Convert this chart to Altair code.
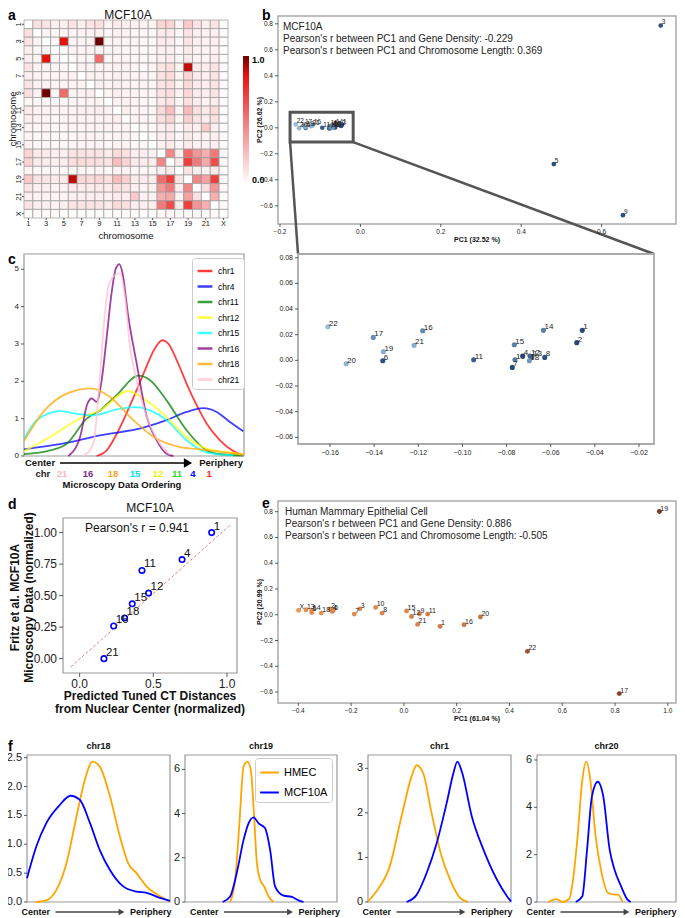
import altair as alt
import pandas as pd

FONT = "Liberation Sans"
MINUS = "\u2212"
W, H = 669, 910

# ---------------- panel a : contact heatmap ----------------
CHROMS = [str(i) for i in range(1, 23)] + ["X"]
HEAT_TICKS = ["1", "3", "5", "7", "9", "11", "13", "15", "17", "19", "21", "X"]
HEAT_UPPER = [
    [.12, .10, .06, .06, .10, .06, .10, .12, .04, .08, .06, .05, .04, .05, .16, .16, .04, .20, .10, .06, .10, .02],
    [.04, .03, .04, .04, .05, .05, .05, .03, .05, .05, .03, .03, .03, .08, .08, .03, .10, .06, .05, .06, .02],
    [.03, .85, .04, .04, .05, 1.0, .03, .05, .04, .04, .03, .03, .08, .08, .03, .10, .06, .05, .06, .02],
    [.03, .04, .04, .04, .04, .03, .04, .03, .03, .03, .03, .06, .06, .03, .08, .05, .04, .05, .02],
    [.03, .04, .04, .55, .03, .04, .04, .03, .03, .03, .06, .07, .03, .08, .05, .04, .06, .02],
    [.05, .05, .05, .04, .05, .05, .04, .03, .04, .10, .12, .04, .90, .08, .06, .10, .02],
    [.05, .05, .04, .06, .05, .04, .04, .04, .10, .14, .04, .15, .08, .06, .10, .02],
    [.06, .04, .06, .05, .04, .04, .04, .10, .12, .04, .14, .08, .06, .10, .02],
    [.04, .06, .05, .04, .04, .04, .10, .12, .04, .15, .08, .06, .10, .02],
    [.05, .05, .04, .03, .03, .08, .10, .03, .12, .07, .05, .08, .02],
    [.06, .04, .04, .04, .14, .25, .04, .26, .12, .08, .14, .02],
    [.04, .04, .04, .12, .16, .04, .18, .10, .06, .12, .02],
    [.03, .03, .06, .08, .03, .08, .06, .20, .06, .02],
    [.03, .06, .07, .03, .08, .05, .05, .06, .02],
    [.05, .07, .03, .08, .05, .05, .06, .02],
    [.45, .06, .55, .40, .30, .50, .03],
    [.08, .70, .50, .32, .65, .03],
    [.10, .06, .05, .08, .02],
    [.45, .35, .70, .03],
    [.12, .40, .03],
    [.30, .02],
    [.02],
]

# ---------------- panel b / inset : MCF10A PCA ----------------
PCA_CHR = [str(i) for i in range(1, 23)]
PCA_X = [-0.0457, -0.0482, 0.747, -0.0727, 0.481, -0.1361, -0.0774, -0.0627, 0.653, -0.0762, -0.0949,
         -0.0694, -0.0685, -0.0633, -0.0765, -0.118, -0.1404, -0.0697, -0.1358, -0.1527, -0.1219, -0.161]
PCA_Y = [0.0234, 0.0138, 0.787, 0.0034, -0.279, -0.0003, -0.0055, 0.0023, -0.672, 0.0005, 0.0005,
         0.0034, 0.0029, 0.0234, 0.0122, 0.0231, 0.0179, -0.0003, 0.0068, -0.0026, 0.0117, 0.0262]
PCA_SHADE = [.9, .9, .85, .85, .85, .85, .9, .85, .85, .55, .75, .7, .7, .5, .5, .45, .4, .35, .2, .15, .2, .1]
MCF_TEXT = ["MCF10A", "Pearson's r between PC1 and Gene Density: -0.229",
            "Pearson's r between PC1 and Chromosome Length: 0.369"]
ZOOM_X = [-0.175, -0.018]
ZOOM_Y = [-0.11, 0.12]
B_XTICKS = [-0.2, 0.0, 0.2, 0.4, 0.6]
B_YTICKS = [-0.6, -0.4, -0.2, 0.0, 0.2, 0.4, 0.6, 0.8]
I_XTICKS = [-0.16, -0.14, -0.12, -0.10, -0.08, -0.06, -0.04, -0.02]
I_YTICKS = [-0.06, -0.04, -0.02, 0.0, 0.02, 0.04, 0.06, 0.08]

# ---------------- panel c : density curves ----------------
C_CHROMS = ["chr1", "chr4", "chr11", "chr12", "chr15", "chr16", "chr18", "chr21"]
C_COLORS = ["#ff0000", "#0000ff", "#008000", "#ffff00", "#00ffff", "#800080", "#ffa500", "#ffc0cb"]
C_T = {
    "chr1": [0.33, 0.376, 0.414, 0.459, 0.505, 0.55, 0.591, 0.629, 0.656, 0.694, 0.739, 0.785, 0.83, 0.891, 0.952, 0.997],
    "chr4": [0.0, 0.118, 0.2, 0.345, 0.542, 0.648, 0.739, 0.815, 0.876, 0.936, 0.997],
    "chr11": [0.0, 0.118, 0.194, 0.285, 0.345, 0.421, 0.52, 0.573, 0.648, 0.739, 0.83, 0.876, 0.997],
    "chr12": [0.0, 0.118, 0.27, 0.345, 0.474, 0.542, 0.648, 0.739, 0.83, 0.952, 0.997],
    "chr15": [0.0, 0.058, 0.164, 0.239, 0.315, 0.421, 0.505, 0.573, 0.648, 0.739, 0.83, 0.952],
    "chr16": [0.202, 0.255, 0.288, 0.308, 0.33, 0.353, 0.376, 0.398, 0.418, 0.433, 0.448, 0.474, 0.512, 0.558, 0.603, 0.648, 0.679],
    "chr18": [0.0, 0.088, 0.194, 0.308, 0.391, 0.497, 0.603, 0.709, 0.8, 0.921, 0.997],
    "chr21": [0.27, 0.315, 0.338, 0.361, 0.383, 0.414, 0.436, 0.459, 0.482, 0.512, 0.558, 0.618, 0.664],
}
C_D = {
    "chr1": [0.0, 0.15, 0.51, 1.05, 1.67, 2.3, 2.84, 3.1, 3.01, 2.57, 1.94, 1.36, 0.87, 0.42, 0.13, 0.02],
    "chr4": [0.18, 0.28, 0.36, 0.55, 0.76, 0.96, 1.18, 1.28, 1.18, 0.91, 0.66],
    "chr11": [0.05, 0.15, 0.33, 1.0, 1.22, 1.63, 2.15, 2.03, 1.49, 0.69, 0.15, 0.06, 0.01],
    "chr12": [0.13, 0.51, 1.05, 1.22, 1.74, 1.54, 1.05, 0.51, 0.2, 0.08, 0.04],
    "chr15": [0.45, 0.96, 1.2, 1.13, 1.09, 1.25, 1.31, 1.22, 0.96, 0.42, 0.1, 0.02],
    "chr16": [0.0, 0.51, 1.4, 1.54, 1.45, 2.03, 3.19, 4.36, 5.03, 5.14, 4.89, 3.73, 2.48, 1.05, 0.42, 0.06, 0.0],
    "chr18": [0.4, 1.18, 1.67, 1.81, 1.58, 0.96, 0.46, 0.24, 0.18, 0.09, 0.04],
    "chr21": [0.0, 0.33, 1.58, 3.37, 4.53, 4.85, 4.89, 4.27, 2.92, 2.03, 1.05, 0.33, 0.04],
}
C_YTICKS = [0, 1, 2, 3, 4, 5]
ORDER_LABELS = ["chr", "21", "16", "18", "15", "12", "11", "4", "1"]
ORDER_POS = [0.086, 0.173, 0.291, 0.405, 0.505, 0.609, 0.695, 0.768, 0.841]
ORDER_COLORS = ["#222222", "#ffb6c1", "#7d2a8c", "#ffa31a", "#00e1f0", "#f0f000", "#22dd22", "#0000ff", "#ff2222"]
ORDER_TITLE = "Microscopy Data Ordering"
CP_WORDS = ["Center", "Periphery"]

# ---------------- panel d : correlation ----------------
D_LABELS = ["1", "4", "11", "12", "15", "18", "16", "21"]
D_X = [0.896, 0.695, 0.423, 0.468, 0.357, 0.305, 0.231, 0.165]
D_Y = [1.0, 0.786, 0.70, 0.52, 0.435, 0.323, 0.259, 0.0]
D_FIT_X = [-0.06, 1.02]
D_FIT_Y = [-0.066, 1.058]
D_XTICKS = [0.0, 0.5, 1.0]
D_YTICKS = [0.0, 0.25, 0.5, 0.75, 1.0]
D_R_TEXT = "Pearson's r = 0.941"
D_XTITLE = ["Predicted Tuned CT Distances", "from Nuclear Center (normalized)"]
D_YTITLE = ["Fritz et al. MCF10A", "Microscopy Data (normalized)"]

# ---------------- panel e : HMEC PCA ----------------
E_CHR = ["X", "13", "14", "5", "18", "2", "4", "6", "7", "3", "10", "8", "15", "12", "9", "11", "21", "1",
         "16", "20", "22", "17", "19"]
E_X = [-0.399, -0.371, -0.349, -0.349, -0.313, -0.28, -0.272, -0.268, -0.188, -0.167, -0.107, -0.082,
       0.010, 0.029, 0.059, 0.09, 0.052, 0.137, 0.228, 0.29, 0.468, 0.816, 0.968]
E_Y = [0.034, 0.039, 0.033, 0.018, 0.013, 0.046, 0.026, 0.033, 0.005, 0.046, 0.057, 0.013, 0.029, -0.013,
       0.008, 0.005, -0.075, -0.09, -0.078, -0.018, -0.284, -0.612, 0.801]
E_SHADE = [.1, .15, .15, .2, .15, .2, .2, .25, .2, .2, .2, .25, .2, .3, .25, .3, .25, .35, .35, .4, .75, .9, 1.0]
HMEC_TEXT = ["Human Mammary Epithelial Cell", "Pearson's r between PC1 and Gene Density: 0.886",
             "Pearson's r between PC1 and Chromosome Length: -0.505"]
E_XTICKS = [-0.4, -0.2, 0.0, 0.2, 0.4, 0.6, 0.8, 1.0]
E_YTICKS = [-0.6, -0.4, -0.2, 0.0, 0.2, 0.4, 0.6, 0.8]

# ---------------- panel f : HMEC vs MCF10A densities ----------------
F_SERIES = ["HMEC", "MCF10A"]
F_COLORS = ["#ffa500", "#0000ff"]
F_NAMES = ["chr18", "chr19", "chr1", "chr20"]
F_HT = [
    [0.06, 0.136, 0.206, 0.276, 0.346, 0.404, 0.458, 0.51, 0.58, 0.65, 0.708, 0.766, 0.836, 0.93, 1.0],
    [0.297, 0.33, 0.358, 0.385, 0.411, 0.433, 0.451, 0.473, 0.495, 0.521, 0.55, 0.582],
    [0.0, 0.059, 0.152, 0.234, 0.304, 0.34, 0.386, 0.445, 0.515, 0.574, 0.644, 0.7],
    [0.081, 0.14, 0.186, 0.233, 0.256, 0.29, 0.326, 0.353, 0.384, 0.419, 0.465, 0.512, 0.558, 0.581, 0.616],
]
F_HY = [
    [0.0, 0.03, 0.21, 0.67, 1.48, 2.11, 2.43, 2.34, 1.83, 1.13, 0.67, 0.5, 0.27, 0.1, 0.01],
    [0.0, 1.0, 3.56, 6.12, 6.35, 5.97, 4.32, 1.76, 1.0, 0.7, 0.25, 0.0],
    [0.01, 0.24, 0.8, 1.92, 2.81, 3.07, 2.89, 1.99, 1.02, 0.5, 0.09, 0.0],
    [0.0, 0.12, 0.0, 0.15, 0.8, 2.63, 5.15, 5.93, 5.15, 2.91, 1.22, 0.38, 0.31, 0.31, 0.0],
]
F_MT = [
    [0.0, 0.065, 0.136, 0.229, 0.304, 0.369, 0.44, 0.509, 0.579, 0.673, 0.766, 0.836, 0.93, 1.0],
    [0.248, 0.297, 0.34, 0.385, 0.418, 0.451, 0.484, 0.527, 0.56, 0.593, 0.648, 0.703, 0.747, 0.78],
    [0.27, 0.34, 0.41, 0.48, 0.55, 0.597, 0.625, 0.656, 0.726, 0.808, 0.902, 0.972, 1.0],
    [0.279, 0.326, 0.36, 0.395, 0.437, 0.477, 0.523, 0.558, 0.605, 0.651, 0.674],
]
F_MY = [
    [0.41, 0.96, 1.37, 1.68, 1.84, 1.77, 1.37, 0.9, 0.56, 0.27, 0.18, 0.16, 0.07, 0.02],
    [0.0, 0.25, 1.3, 2.8, 3.56, 3.83, 3.56, 3.34, 2.36, 0.7, 0.29, 0.23, 0.07, 0.0],
    [0.0, 0.16, 0.65, 1.32, 2.22, 2.89, 3.15, 2.93, 1.92, 1.17, 0.5, 0.13, 0.01],
    [0.0, 0.24, 2.2, 4.45, 5.08, 4.45, 2.2, 1.36, 0.66, 0.1, 0.0],
]
F_YMAX = [2.546, 6.65, 3.3, 6.21]
F_YTICKS = [[0.0, 0.5, 1.0, 1.5, 2.0, 2.5], [0, 2, 4, 6], [0, 1, 2, 3], [0, 2, 4, 6]]
F_DEC = [1, 0, 0, 0]

# ---------------- layout (pixel boxes in the drawing: x0, x1, y0, y1) ----------------
A_BOX = (16, 220, 12, 210)
B_BOX = (270, 668, 8, 216)
I_BOX = (290, 646, 246, 436)
C_BOX = (16, 236, 246, 448)
D_BOX = (55, 229, 510, 665)
E_BOX = (270, 668, 493, 695)
F_BOXES = [(19, 162, 747, 894), (177, 329, 747, 894), (360, 503, 747, 894), (529, 668, 747, 894)]
F_SHIFT = [-2, 4, -2, -5]

one = pd.DataFrame({"k": [0]})


def fmt(v, nd):
    s = f"{v:.{nd}f}"
    if s.startswith("-"):
        s = s[1:] if float(s) == 0 else MINUS + s[1:]
    return s


def xs(dom, box):
    return alt.Scale(domain=dom, range=[box[0], box[1]], nice=False, zero=False)


def ys(dom, box):
    return alt.Scale(domain=dom, range=[box[3], box[2]], nice=False, zero=False)


def txt(text, x, y, fs, weight="normal", angle=0, align="center", baseline="middle", color="#111"):
    return alt.Chart(one).mark_text(text=text, fontSize=fs, fontWeight=weight, angle=angle, align=align,
                                    baseline=baseline, font=FONT, color=color).encode(
        x=alt.value(x), y=alt.value(y))


def letter(ch, x, y):
    return txt(ch, x, y, 14, "bold", align="left", baseline="top", color="#000")


def frame(box, color="#9a9a9a", sw=1.2):
    return alt.Chart(one).mark_rect(fillOpacity=0, stroke=color, strokeWidth=sw).encode(
        x=alt.value(box[0]), x2=alt.value(box[1]), y=alt.value(box[2]), y2=alt.value(box[3]))


def y_axis(box, scale, values, nd, fs, tick=3, pad=2):
    df = pd.DataFrame({"v": values, "lab": [fmt(v, nd) for v in values]})
    ey = alt.Y("v:Q", scale=scale, axis=None)
    return [
        alt.Chart(df).mark_rule(color="#333333", strokeWidth=0.8).encode(
            y=ey, x=alt.value(box[0] - tick), x2=alt.value(box[0])),
        alt.Chart(df).mark_text(align="right", baseline="middle", fontSize=fs, font=FONT, color="#222").encode(
            y=ey, x=alt.value(box[0] - tick - pad), text="lab:N"),
    ]


def x_axis(box, scale, values, nd, fs, tick=3, pad=2):
    df = pd.DataFrame({"v": values, "lab": [fmt(v, nd) for v in values]})
    ex = alt.X("v:Q", scale=scale, axis=None)
    return [
        alt.Chart(df).mark_rule(color="#333333", strokeWidth=0.8).encode(
            x=ex, y=alt.value(box[3]), y2=alt.value(box[3] + tick)),
        alt.Chart(df).mark_text(align="center", baseline="top", fontSize=fs, font=FONT, color="#222").encode(
            x=ex, y=alt.value(box[3] + tick + pad), text="lab:N"),
    ]


def cp_layers(cx, y, half, a0, a1, tc, fs, tri, color, sw):
    base = alt.Chart(one)
    return [
        txt(CP_WORDS[0], cx - half, y, fs, "bold", align="left"),
        txt(CP_WORDS[1], cx + half, y, fs, "bold", align="right"),
        base.mark_rule(color=color, strokeWidth=sw).encode(x=alt.value(cx + a0), x2=alt.value(cx + a1),
                                                           y=alt.value(y)),
        base.mark_point(shape="triangle-right", filled=True, size=tri, color=color, opacity=1).encode(
            x=alt.value(cx + tc), y=alt.value(y)),
    ]


def info_lines(lines, x, y0):
    return [txt(line, x, y0 + 12 * k, 10, align="left", color="#222") for k, line in enumerate(lines)]


layers = []

# ======== panel a ========
heat_rows = []
for i, ri in enumerate(CHROMS):
    for j, cj in enumerate(CHROMS):
        if i == j:
            v = 0.0
        elif j > i:
            v = HEAT_UPPER[i][j - i - 1]
        else:
            v = HEAT_UPPER[j][i - j - 1]
        heat_rows.append({"row": ri, "col": cj, "v": v})
heat_df = pd.DataFrame(heat_rows)
hx = alt.Scale(domain=CHROMS, range=[A_BOX[0], A_BOX[1]], paddingInner=0, paddingOuter=0)
hy = alt.Scale(domain=CHROMS, range=[A_BOX[2], A_BOX[3]], paddingInner=0, paddingOuter=0)
heat = alt.Chart(heat_df).mark_rect(stroke="#9a9a9a", strokeWidth=0.7).encode(
    x=alt.X("col:N", scale=hx, axis=None), y=alt.Y("row:N", scale=hy, axis=None),
    color=alt.Color("v:Q", scale=alt.Scale(domain=[0, 0.5, 0.85, 1.0], interpolate="rgb",
                                           range=["#ffffff", "#f27a7a", "#e8120c", "#700000"]),
                    legend=alt.Legend(orient="none", legendX=235, legendY=48, direction="vertical",
                                      gradientLength=129, gradientThickness=6, values=[0, 1], format=".1f",
                                      labelFontSize=9, labelFontWeight="bold", title=None, labelOffset=3,
                                      gradientStrokeWidth=0, labelFont=FONT)),
)
ht_df = pd.DataFrame({"lab": HEAT_TICKS})
layers += [
    heat,
    alt.Chart(ht_df).mark_rule(color="#333333", strokeWidth=0.8).encode(
        x=alt.X("lab:N", scale=hx, axis=None), y=alt.value(A_BOX[3]), y2=alt.value(A_BOX[3] + 2)),
    alt.Chart(ht_df).mark_text(fontSize=7.5, baseline="middle", font=FONT, color="#222").encode(
        x=alt.X("lab:N", scale=hx, axis=None), y=alt.value(A_BOX[3] + 6), text="lab:N"),
    alt.Chart(ht_df).mark_rule(color="#333333", strokeWidth=0.8).encode(
        y=alt.Y("lab:N", scale=hy, axis=None), x=alt.value(A_BOX[0] - 2), x2=alt.value(A_BOX[0])),
    alt.Chart(ht_df).mark_text(fontSize=7.5, angle=270, baseline="middle", font=FONT, color="#222").encode(
        y=alt.Y("lab:N", scale=hy, axis=None), x=alt.value(A_BOX[0] - 5.5), text="lab:N"),
    txt("chromosome", (A_BOX[0] + A_BOX[1]) / 2, 228, 9.5),
    txt("chromosome", 4.8, (A_BOX[2] + A_BOX[3]) / 2, 9.5, angle=270),
    txt("MCF10A", (A_BOX[0] + A_BOX[1]) / 2 + 2, 6.5, 12),
    letter("a", 0, 1),
]

# ======== panel b ========
pca_df = pd.DataFrame({"chr": PCA_CHR, "x": PCA_X, "y": PCA_Y, "shade": PCA_SHADE})
box_df = pd.DataFrame({"x1": [ZOOM_X[0]], "x2": [ZOOM_X[1]], "y1": [ZOOM_Y[0]], "y2": [ZOOM_Y[1]]})
bxs = xs([-0.205, 0.785], B_BOX)
bys = ys([-0.74, 0.86], B_BOX)
blue_scale = alt.Scale(domain=[0, 1], range=["#a6cde6", "#1c3a70"])
layers += [
    frame(B_BOX, "#aaaaaa", 1.5),
    alt.Chart(pca_df).mark_circle(size=22, opacity=1).encode(
        x=alt.X("x:Q", scale=bxs, axis=None), y=alt.Y("y:Q", scale=bys, axis=None),
        color=alt.Color("shade:Q", scale=blue_scale, legend=None)),
    alt.Chart(pca_df).mark_text(align="left", baseline="alphabetic", dx=1, dy=-1, fontSize=6.5, font=FONT,
                                color="#222").encode(
        x=alt.X("x:Q", scale=bxs, axis=None), y=alt.Y("y:Q", scale=bys, axis=None), text="chr:N"),
    alt.Chart(box_df).mark_rect(fillOpacity=0, stroke="#555555", strokeWidth=3).encode(
        x=alt.X("x1:Q", scale=bxs, axis=None), x2="x2:Q", y=alt.Y("y1:Q", scale=bys, axis=None), y2="y2:Q"),
    alt.Chart(box_df).mark_rule(color="#555555", strokeWidth=2.5).encode(
        x=alt.X("x1:Q", scale=bxs, axis=None), y=alt.Y("y1:Q", scale=bys, axis=None),
        x2=alt.value(I_BOX[0]), y2=alt.value(I_BOX[2])),
    alt.Chart(box_df).mark_rule(color="#555555", strokeWidth=2.5).encode(
        x=alt.X("x2:Q", scale=bxs, axis=None), y=alt.Y("y1:Q", scale=bys, axis=None),
        x2=alt.value(I_BOX[1]), y2=alt.value(I_BOX[2])),
]
layers += x_axis(B_BOX, bxs, B_XTICKS, 1, 6.5) + y_axis(B_BOX, bys, B_YTICKS, 1, 6.5)
layers += info_lines(MCF_TEXT, B_BOX[0] + 5, B_BOX[2] + 11)
layers += [
    txt("PC1 (32.52 %)", (B_BOX[0] + B_BOX[1]) / 2, B_BOX[3] + 16, 7, "bold"),
    txt("PC2 (26.62 %)", B_BOX[0] - 18, (B_BOX[2] + B_BOX[3]) / 2, 7, "bold", angle=270),
    letter("b", 254, 1),
]

# ======== inset ========
ixs = xs([-0.1745, -0.0132], I_BOX)
iys = ys([-0.0652, 0.0829], I_BOX)
i_base = alt.Chart(pca_df).transform_filter(alt.datum.x < 0)
layers += [
    frame(I_BOX, "#aaaaaa", 1.8),
    i_base.mark_circle(size=26, opacity=1).encode(
        x=alt.X("x:Q", scale=ixs, axis=None), y=alt.Y("y:Q", scale=iys, axis=None),
        color=alt.Color("shade:Q", scale=blue_scale, legend=None)),
    i_base.mark_text(align="left", baseline="alphabetic", dx=1, dy=-1, fontSize=8, font=FONT,
                     color="#222").encode(
        x=alt.X("x:Q", scale=ixs, axis=None), y=alt.Y("y:Q", scale=iys, axis=None), text="chr:N"),
]
layers += x_axis(I_BOX, ixs, I_XTICKS, 2, 7) + y_axis(I_BOX, iys, I_YTICKS, 2, 7)

# ======== panel c ========
c_rows = []
for name in C_CHROMS:
    for t, d in zip(C_T[name], C_D[name]):
        c_rows.append({"chr": name, "t": t, "d": d})
c_df = pd.DataFrame(c_rows)
cxs = xs([0, 1], C_BOX)
cys = ys([0, 5.41], C_BOX)
ord_df = pd.DataFrame({"lab": ORDER_LABELS, "t": ORDER_POS})
layers += [
    frame(C_BOX),
    alt.Chart(c_df).mark_line(interpolate="monotone", strokeWidth=1.8, opacity=0.75).encode(
        x=alt.X("t:Q", scale=cxs, axis=None), y=alt.Y("d:Q", scale=cys, axis=None),
        color=alt.Color("chr:N", scale=alt.Scale(domain=C_CHROMS, range=C_COLORS),
                        legend=alt.Legend(orient="none", legendX=184, legendY=250, title=None,
                                          labelFontSize=8.5, symbolType="stroke", symbolStrokeWidth=2.5,
                                          symbolSize=220, fillColor="white", strokeColor="#cccccc",
                                          padding=4, rowPadding=1.5, cornerRadius=3, labelFont=FONT,
                                          symbolOpacity=0.75))),
    alt.Chart(ord_df).mark_text(fontSize=9.5, fontWeight="bold", font=FONT, baseline="middle").encode(
        x=alt.X("t:Q", scale=cxs, axis=None), y=alt.value(C_BOX[3] + 18), text="lab:N",
        fill=alt.Fill("lab:N", scale=alt.Scale(domain=ORDER_LABELS, range=ORDER_COLORS), legend=None)),
    txt(ORDER_TITLE, 114, C_BOX[3] + 29, 9.5, "bold"),
    letter("c", 0, 245),
]
layers += y_axis(C_BOX, cys, C_YTICKS, 0, 8)
layers += cp_layers(126, C_BOX[3] + 7, 109, -74, 50, 54, 9.5, 90, "#000000", 1.6)

# ======== panel d ========
d_df = pd.DataFrame({"lab": D_LABELS, "x": D_X, "y": D_Y})
fit_df = pd.DataFrame({"x": D_FIT_X, "y": D_FIT_Y})
dxs = xs([-0.113, 1.068], D_BOX)
dys = ys([-0.114, 1.116], D_BOX)
dmid_x = (D_BOX[0] + D_BOX[1]) / 2
dmid_y = (D_BOX[2] + D_BOX[3]) / 2
layers += [
    frame(D_BOX),
    alt.Chart(fit_df).mark_line(strokeDash=[3, 2], color="#f08080", strokeWidth=1).encode(
        x=alt.X("x:Q", scale=dxs, axis=None), y=alt.Y("y:Q", scale=dys, axis=None)),
    alt.Chart(d_df).mark_point(shape="circle", filled=False, color="#0000ff", strokeWidth=1.6, size=30,
                               opacity=1).encode(
        x=alt.X("x:Q", scale=dxs, axis=None), y=alt.Y("y:Q", scale=dys, axis=None)),
    alt.Chart(d_df).mark_text(align="left", baseline="alphabetic", dx=2, dy=-3, fontSize=11.5, font=FONT,
                              color="#111").encode(
        x=alt.X("x:Q", scale=dxs, axis=None), y=alt.Y("y:Q", scale=dys, axis=None), text="lab:N"),
    txt(D_R_TEXT, dmid_x - 13, D_BOX[2] + 10, 12),
    txt("MCF10A", dmid_x, D_BOX[2] - 10, 12),
    txt(D_XTITLE[0], dmid_x, D_BOX[3] + 23, 12, "bold"),
    txt(D_XTITLE[1], dmid_x, D_BOX[3] + 36, 12, "bold"),
    txt(D_YTITLE[0], 6.5, dmid_y + 2, 12, "bold", angle=270),
    txt(D_YTITLE[1], 20.5, dmid_y + 2, 12, "bold", angle=270),
    letter("d", 0, 490),
]
layers += x_axis(D_BOX, dxs, D_XTICKS, 1, 12, tick=4) + y_axis(D_BOX, dys, D_YTICKS, 2, 12, tick=4)

# ======== panel e ========
e_df = pd.DataFrame({"chr": E_CHR, "x": E_X, "y": E_Y, "shade": E_SHADE})
exs = xs([-0.477, 1.031], E_BOX)
eys = ys([-0.685, 0.883], E_BOX)
orange_scale = alt.Scale(domain=[0, 1], range=["#f7a05a", "#7a3a22"])
layers += [
    frame(E_BOX, "#aaaaaa", 1.5),
    alt.Chart(e_df).mark_circle(size=24, opacity=1).encode(
        x=alt.X("x:Q", scale=exs, axis=None), y=alt.Y("y:Q", scale=eys, axis=None),
        color=alt.Color("shade:Q", scale=orange_scale, legend=None)),
    alt.Chart(e_df).mark_text(align="left", baseline="alphabetic", dx=1, dy=-1, fontSize=7, font=FONT,
                              color="#222").encode(
        x=alt.X("x:Q", scale=exs, axis=None), y=alt.Y("y:Q", scale=eys, axis=None), text="chr:N"),
    txt("PC1 (61.04 %)", (E_BOX[0] + E_BOX[1]) / 2, E_BOX[3] + 16, 7, "bold"),
    txt("PC2 (20.99 %)", E_BOX[0] - 18, (E_BOX[2] + E_BOX[3]) / 2, 7, "bold", angle=270),
    letter("e", 254, 489),
]
layers += info_lines(HMEC_TEXT, E_BOX[0] + 7, E_BOX[2] + 11)
layers += x_axis(E_BOX, exs, E_XTICKS, 1, 6.5) + y_axis(E_BOX, eys, E_YTICKS, 1, 6.5)

# ======== panel f ========
for k in range(4):
    box = F_BOXES[k]
    rows = [{"t": t, "d": d, "s": F_SERIES[0]} for t, d in zip(F_HT[k], F_HY[k])]
    rows += [{"t": t, "d": d, "s": F_SERIES[1]} for t, d in zip(F_MT[k], F_MY[k])]
    fdf = pd.DataFrame(rows)
    fxs = xs([0, 1], box)
    fys = ys([0, F_YMAX[k]], box)
    leg = None
    if k == 1:
        leg = alt.Legend(orient="none", legendX=box[1] - 82, legendY=box[2] + 3, title=None, labelFontSize=11,
                         symbolType="stroke", symbolStrokeWidth=2, symbolSize=350, fillColor="white",
                         strokeColor="#cccccc", padding=4, rowPadding=4, cornerRadius=3, labelFont=FONT)
    cx = (box[0] + box[1]) / 2 + F_SHIFT[k]
    layers += [
        frame(box),
        alt.Chart(fdf).mark_line(interpolate="monotone", strokeWidth=1.8).encode(
            x=alt.X("t:Q", scale=fxs, axis=None), y=alt.Y("d:Q", scale=fys, axis=None),
            color=alt.Color("s:N", scale=alt.Scale(domain=F_SERIES, range=F_COLORS), legend=leg)),
        txt(F_NAMES[k], (box[0] + box[1]) / 2, box[2] - 9, 9, "bold"),
    ]
    layers += y_axis(box, fys, F_YTICKS[k], F_DEC[k], 11)
    layers += cp_layers(cx, box[3] + 10, 75, -41, 23, 25, 9, 45, "#444444", 1.5)
layers.append(letter("f", 0, 732))

chart = alt.layer(*layers).resolve_scale(
    x="independent", y="independent", color="independent", fill="independent"
).resolve_legend(color="independent", fill="independent").properties(
    width=W, height=H, padding=0, background="white",
    autosize=alt.AutoSizeParams(type="none")
).configure(font=FONT).configure_view(stroke=None)

chart.save("out.html", embed_options={"renderer": "svg", "actions": False})
